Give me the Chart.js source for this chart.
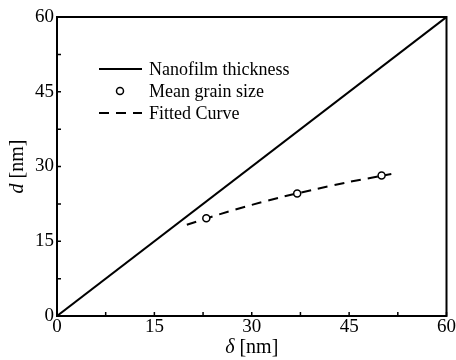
<!DOCTYPE html>
<html>
<head>
<meta charset="utf-8">
<script src="https://cdn.jsdelivr.net/npm/chart.js@4"></script>
<style>
  html, body { margin: 0; padding: 0; background: #fff; }
  #wrap { width: 456px; height: 360px; }
</style>
</head>
<body>
<div id="wrap"><canvas id="grainChart" width="456" height="360"></canvas></div>
<script>
// nanofilm thickness line d = delta
var thicknessX = [0, 60];
var thicknessY = [0, 60];

// measured mean grain size
var grainX = [23, 37, 50];
var grainY = [19.6, 24.6, 28.2];

// fitted curve
var fitX = [20, 25, 30, 35, 40, 45, 51.5];
var fitY = [18.3, 20.4, 22.3, 24.0, 25.5, 26.9, 28.5];

var tickValues = [0, 7.5, 15, 22.5, 30, 37.5, 45, 52.5, 60];
var tickLabels = ['0', '', '15', '', '30', '', '45', '', '60'];

var labels = ['Nanofilm thickness', 'Mean grain size', 'Fitted Curve'];

function toPoints(xs, ys) {
  var pts = [];
  for (var i = 0; i < xs.length; i++) pts.push({x: xs[i], y: ys[i]});
  return pts;
}

var serif = "'Liberation Serif', 'Times New Roman', serif";

// ticks pointing into the plot plus the closing frame
var framePlugin = {
  id: 'frame',
  afterDraw: function(chart) {
    var ctx = chart.ctx, a = chart.chartArea;
    var xs = chart.scales.x, ys = chart.scales.y;
    ctx.save();
    ctx.strokeStyle = '#000';
    ctx.lineWidth = 1.5;
    ctx.beginPath();
    tickValues.forEach(function(v) {
      var px = xs.getPixelForValue(v);
      ctx.moveTo(px, a.bottom);
      ctx.lineTo(px, a.bottom - 4);
      var py = ys.getPixelForValue(v);
      ctx.moveTo(a.left, py);
      ctx.lineTo(a.left + 4, py);
    });
    ctx.stroke();
    ctx.lineWidth = 2;
    ctx.strokeRect(a.left, a.top, a.right - a.left, a.bottom - a.top);

    // axis titles with italic symbol
    ctx.fillStyle = '#000';
    ctx.textBaseline = 'alphabetic';
    var sym = 'italic 20px ' + serif, rest = '20px ' + serif;
    // x title
    ctx.font = sym;
    var w1 = ctx.measureText('\u03b4').width;
    ctx.font = rest;
    var w2 = ctx.measureText(' [nm]').width;
    var cx = (a.left + a.right) / 2, x0 = cx - (w1 + w2) / 2;
    ctx.font = sym;
    ctx.fillText('\u03b4', x0, 353);
    ctx.font = rest;
    ctx.fillText(' [nm]', x0 + w1, 353);
    // y title
    ctx.translate(23, (a.top + a.bottom) / 2);
    ctx.rotate(-Math.PI / 2);
    ctx.font = sym;
    w1 = ctx.measureText('d').width;
    ctx.font = rest;
    w2 = ctx.measureText(' [nm]').width;
    x0 = -(w1 + w2) / 2;
    ctx.font = sym;
    ctx.fillText('d', x0, 0);
    ctx.font = rest;
    ctx.fillText(' [nm]', x0 + w1, 0);
    ctx.restore();

    // legend inside the plot
    ctx.save();
    ctx.font = '18px ' + serif;
    ctx.textBaseline = 'middle';
    ctx.fillStyle = '#000';
    var rows = [69, 91, 113];
    chart.data.datasets.forEach(function(ds, i) {
      var y = rows[i];
      ctx.strokeStyle = '#000';
      if (ds.showLine === false) {
        ctx.lineWidth = 1.5;
        ctx.fillStyle = '#fff';
        ctx.beginPath();
        ctx.arc(120, y, 3.5, 0, Math.PI * 2);
        ctx.fill();
        ctx.stroke();
        ctx.fillStyle = '#000';
      } else {
        ctx.lineWidth = ds.borderWidth;
        ctx.setLineDash(ds.borderDash || []);
        ctx.beginPath();
        ctx.moveTo(99, y);
        ctx.lineTo(142, y);
        ctx.stroke();
        ctx.setLineDash([]);
      }
      ctx.fillText(ds.label, 149, y + 1);
    });
    ctx.restore();
  }
};

var ctx = document.getElementById('grainChart');
var chart = new Chart(ctx, {
  type: 'scatter',
  data: {
    datasets: [
      {
        label: labels[0],
        data: toPoints(thicknessX, thicknessY),
        showLine: true,
        borderColor: '#000',
        borderWidth: 2,
        pointRadius: 0
      },
      {
        label: labels[1],
        data: toPoints(grainX, grainY),
        showLine: false,
        pointRadius: 3.5,
        pointBorderWidth: 1.5,
        pointBorderColor: '#000',
        pointBackgroundColor: '#fff'
      },
      {
        label: labels[2],
        data: toPoints(fitX, fitY),
        showLine: true,
        borderColor: '#000',
        borderWidth: 2,
        borderDash: [10, 7],
        tension: 0.2,
        pointRadius: 0
      }
    ]
  },
  options: {
    responsive: false,
    animation: false,
    devicePixelRatio: 1,
    layout: { padding: { top: 17, right: 9, left: 0, bottom: 0 } },
    plugins: { legend: { display: false }, tooltip: { enabled: false } },
    scales: {
      x: {
        type: 'linear',
        min: 0, max: 60,
        afterFit: function(s) { s.height = 44; },
        afterBuildTicks: function(s) { s.ticks = tickValues.map(function(v) { return {value: v}; }); },
        grid: { display: false, drawTicks: false },
        border: { display: false },
        ticks: {
          padding: 0,
          maxRotation: 0,
          autoSkip: false,
          color: '#000',
          font: { family: serif, size: 19 },
          callback: function(v) { return tickLabels[tickValues.indexOf(v)]; }
        }
      },
      y: {
        type: 'linear',
        min: 0, max: 60,
        afterFit: function(s) { s.width = 57; },
        afterBuildTicks: function(s) { s.ticks = tickValues.map(function(v) { return {value: v}; }); },
        grid: { display: false, drawTicks: false },
        border: { display: false },
        ticks: {
          padding: 3,
          autoSkip: false,
          color: '#000',
          font: { family: serif, size: 19 },
          callback: function(v) { return tickLabels[tickValues.indexOf(v)]; }
        }
      }
    }
  },
  plugins: [framePlugin]
});
</script>
</body>
</html>
